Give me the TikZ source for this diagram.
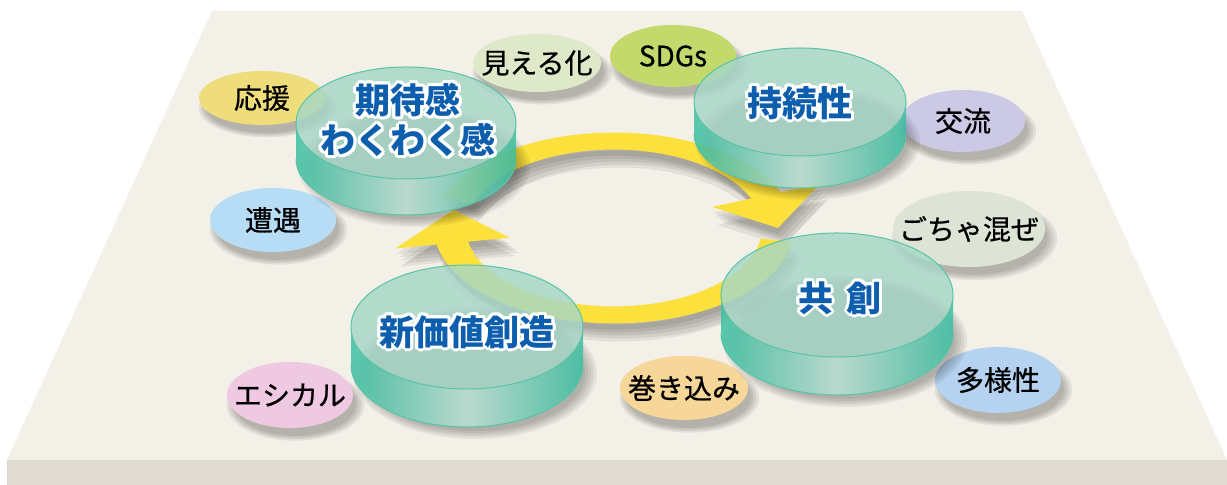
\documentclass[tikz,border=0pt]{standalone}
\usepackage{fontspec}
\setmainfont{Noto Sans CJK JP}
\newfontfamily\tagfont[FakeBold=0.7]{Noto Sans CJK JP}
\usepackage{tikz}
\usetikzlibrary{shapes.geometric,shadows}
\definecolor{deck}{RGB}{243,240,232}
\definecolor{deckfront}{RGB}{223,219,208}
\definecolor{ringyellow}{RGB}{252,224,60}
\definecolor{disctop}{RGB}{166,215,199}
\definecolor{discside}{RGB}{60,192,162}
\definecolor{disclight}{RGB}{188,225,213}
\definecolor{discedge}{RGB}{88,196,166}
\definecolor{labelblue}{RGB}{14,94,174}
\definecolor{tagyellow}{RGB}{239,221,124}
\definecolor{tagblue}{RGB}{182,221,245}
\definecolor{taggreen}{RGB}{221,233,201}
\definecolor{taglime}{RGB}{195,217,107}
\definecolor{taglilac}{RGB}{204,201,230}
\definecolor{taggray}{RGB}{221,227,213}
\definecolor{tagsky}{RGB}{181,211,240}
\definecolor{tagorange}{RGB}{246,214,153}
\definecolor{tagpink}{RGB}{238,201,225}

\begin{document}
\begin{tikzpicture}[x=0.5pt,y=0.5pt,
  tag/.style={ellipse,inner xsep=-40pt,inner ysep=-20pt,text=black,font=\tagfont\fontsize{14}{16}\selectfont,
    general shadow={fill=black,opacity=0.07,shadow xshift=2.5pt,shadow yshift=-4.5pt,shadow scale=1.09},
    general shadow={fill=black,opacity=0.07,shadow xshift=2.5pt,shadow yshift=-4.5pt,shadow scale=1.05},
    general shadow={fill=black,opacity=0.07,shadow xshift=2.5pt,shadow yshift=-4.5pt,shadow scale=1.01},
    general shadow={fill=black,opacity=0.07,shadow xshift=2.5pt,shadow yshift=-4.5pt,shadow scale=0.97}},
  mainlabel/.style={align=center,inner sep=0pt,text=labelblue,font=\fontsize{17.5}{20}\selectfont\bfseries},
  halo/.style={mainlabel,text=white},
  bandtop/.style={insert path={(162:180) arc[start angle=162,end angle=22,radius=180]
    -- (22:222) -- (0:164) -- (22:106) -- (22:148) arc[start angle=22,end angle=162,radius=148] -- cycle}},
  bandbottom/.style={insert path={(-8:180) arc[start angle=-8,end angle=-170,radius=180]
    -- (-170:222) -- (-192:164) -- (-170:106) -- (-170:148) arc[start angle=-170,end angle=-8,radius=148] -- cycle}}
]
\useasboundingbox (0,0) rectangle (1227,485);
\fill[white] (0,0) rectangle (1227,485);

% Platform
\fill[deck] (212,474) -- (1022,474) -- (1227,25) -- (7,25) -- cycle;
\fill[deckfront] (7,0) rectangle (1227,25);

% Cycle arrows (shadow, then band)
\foreach \dx/\dy in {0/-6,3/-9,6/-12,9/-15,5/-18}
  \fill[black,opacity=0.07,shift={({614+\dx},{257+\dy})},yscale=0.53] [bandtop] [bandbottom];
\begin{scope}[shift={(614,257)},yscale=0.53]
  \fill[ringyellow,bandtop];
  \fill[ringyellow,bandbottom];
\end{scope}

% Keywords
\node[tag,fill=tagyellow,minimum width=63pt,minimum height=27pt] (ouen)     at (262,387) {応援};
\node[tag,fill=tagblue,  minimum width=63pt,minimum height=32pt] (souguu)   at (273,265) {遭遇};
\node[tag,fill=taggreen, minimum width=64pt,minimum height=29pt] (mieru)    at (537,422) {見える化};
\node[tag,fill=taglime,  minimum width=63pt,minimum height=31pt] (sdgs)     at (673,429) {SDGs};
\node[tag,fill=taglilac, minimum width=62pt,minimum height=31pt] (kouryuu)  at (963,364) {交流};
\node[tag,fill=taggray,  minimum width=76pt,minimum height=38pt] (gocha)    at (969,256) {ごちゃ混ぜ};
\node[tag,fill=tagsky,   minimum width=63pt,minimum height=33pt] (tayou)    at (998,105) {多様性};
\node[tag,fill=tagorange,minimum width=64pt,minimum height=32pt] (makikomi) at (684,97)  {巻き込み};
\node[tag,fill=tagpink,  minimum width=63pt,minimum height=33pt] (ethical)  at (290,90)  {エシカル};

% Discs
\foreach \cx/\cy/\rx/\ry/\h in {406/362/110/56/36, 800/383/106/54/32, 467/158/116/62/38, 837/190/116/62/38} {
  \foreach \k in {0,...,4}
    \fill[black,opacity=0.06] ({\cx+8},{\cy-\h-8}) ellipse[x radius={\rx+6-3*\k},y radius={\ry+4-2*\k}];
  \path[left color=discside,right color=discside,middle color=disclight,opacity=0.85]
    ({\cx-\rx},\cy) -- ({\cx-\rx},{\cy-\h}) arc[start angle=180,end angle=360,x radius=\rx,y radius=\ry]
    -- ({\cx+\rx},\cy) arc[start angle=0,end angle=-180,x radius=\rx,y radius=\ry] -- cycle;
  \draw[discedge,line width=0.5pt] ({\cx-\rx},{\cy-\h}) arc[start angle=180,end angle=360,x radius=\rx,y radius=\ry];
  \fill[disctop,opacity=0.82] (\cx,\cy) ellipse[x radius=\rx,y radius=\ry];
  \draw[discedge,line width=0.5pt] (\cx,\cy) ellipse[x radius=\rx,y radius=\ry];
}

% Disc labels
\foreach \a in {0,30,...,330} {
  \node[halo] (h1-\a) at ([shift={(\a:3)}]408,365) {期待感\\わくわく感};
  \node[halo] (h2-\a) at ([shift={(\a:3)}]800,382) {持続性};
  \node[halo] (h3-\a) at ([shift={(\a:3)}]467,153) {新価値創造};
  \node[halo] (h4-\a) at ([shift={(\a:3)}]840,187) {共\hspace{0.4em}創};
}
\node[mainlabel] (kitai)     at (408,365) {期待感\\わくわく感};
\node[mainlabel] (jizoku)    at (800,382) {持続性};
\node[mainlabel] (shinkachi) at (467,153) {新価値創造};
\node[mainlabel] (kyousou)   at (840,187) {共\hspace{0.4em}創};
\end{tikzpicture}
\end{document}
